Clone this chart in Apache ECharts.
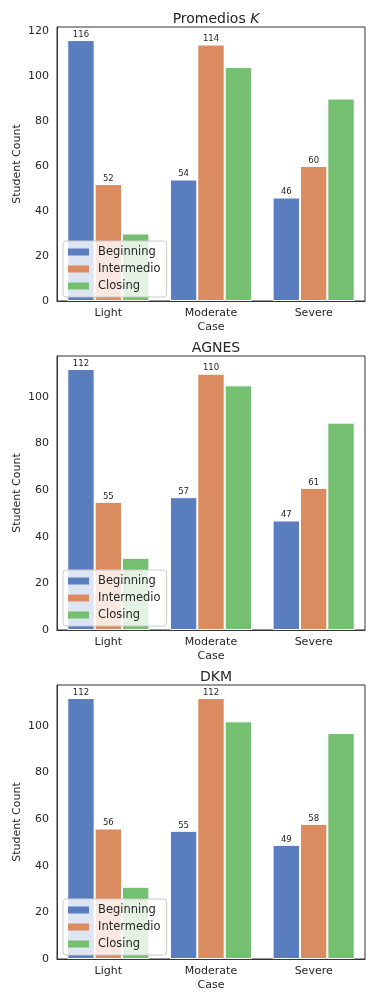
<!DOCTYPE html>
<html><head><meta charset="utf-8">
<script src="https://cdn.jsdelivr.net/npm/echarts@6/dist/echarts.min.js"></script>
<style>html,body{margin:0;padding:0;background:#fff}#c{width:366px;height:992px}</style>
</head><body><div id="c"></div>
<script>
const categories = ['Light', 'Moderate', 'Severe'];
const seriesNames = ['Beginning', 'Intermedio', 'Closing'];
const panelTitles = ['Promedios {i|K}', 'AGNES', 'DKM'];
// panel 1: Promedios K
const kBeginning = [116, 54, 46];
const kIntermedio = [52, 114, 60];
const kClosing = [30, 104, 90];
// panel 2: AGNES
const agnesBeginning = [112, 57, 47];
const agnesIntermedio = [55, 110, 61];
const agnesClosing = [31, 105, 89];
// panel 3: DKM
const dkmBeginning = [112, 55, 49];
const dkmIntermedio = [56, 112, 58];
const dkmClosing = [31, 102, 97];
const yTicks1 = [0, 20, 40, 60, 80, 100, 120];

const panels = [
  [kBeginning, kIntermedio, kClosing],
  [agnesBeginning, agnesIntermedio, agnesClosing],
  [dkmBeginning, dkmIntermedio, dkmClosing]
];
const colors = ['#597dbf', '#da8b5f', '#75bf71'];
const FONT = 'DejaVu Sans';
const TXT = '#262626';
const gridTops = [27, 356, 685];
const H = 274;

const option = {
  animation: false,
  textStyle: {fontFamily: FONT},
  title: [], grid: [], xAxis: [], yAxis: [], series: [], legend: []
};
panels.forEach((p, gi) => {
  const maxV = Math.max(...p.flat()) * 1.05;
  option.title.push({
    text: panelTitles[gi], left: 211, top: gridTops[gi] - 20, textAlign: 'center',
    textStyle: {fontFamily: FONT, fontSize: 14, fontWeight: 'normal', color: TXT,
      rich: {i: {fontFamily: FONT, fontSize: 14, fontStyle: 'italic', color: TXT}}}
  });
  option.grid.push({left: 57, right: 1, top: gridTops[gi], height: H, show: true,
    borderColor: '#333', borderWidth: 1, backgroundColor: 'transparent'});
  option.xAxis.push({
    type: 'category', data: categories, gridIndex: gi,
    name: 'Case', nameLocation: 'middle', nameGap: 21,
    nameTextStyle: {fontFamily: FONT, fontSize: 11, color: TXT},
    axisLine: {show: true, lineStyle: {color: '#333', width: 1}},
    axisTick: {show: false},
    axisLabel: {fontFamily: FONT, fontSize: 11, color: TXT, margin: 7},
    splitLine: {show: false}
  });
  option.yAxis.push({
    type: 'value', gridIndex: gi, min: 0, max: maxV, interval: 20,
    name: 'Student Count', nameLocation: 'middle', nameGap: 34, nameMoveOverlap: false,
    nameTextStyle: {fontFamily: FONT, fontSize: 11, color: TXT},
    axisLine: {show: true, lineStyle: {color: '#333', width: 1}},
    axisTick: {show: false},
    axisLabel: {fontFamily: FONT, fontSize: 11, color: TXT, margin: 8,
      showMaxLabel: gi === 0 ? true : false,
      formatter: v => (gi === 0 && yTicks1.indexOf(v) < 0) ? '' : (Math.abs(v - maxV) < 1e-6 && v % 20 !== 0 ? '' : String(v))},
    splitLine: {show: false}
  });
  p.forEach((vals, si) => {
    option.series.push({
      type: 'bar', name: seriesNames[si], data: vals,
      xAxisIndex: gi, yAxisIndex: gi,
      barGap: '0%', barCategoryGap: '20%',
      itemStyle: {color: colors[si], borderColor: '#fff', borderWidth: 1},
      label: {show: si < 2, position: 'top', distance: 1, fontFamily: FONT, fontSize: 8.5, color: TXT},
      emphasis: {disabled: true}
    });
  });
  option.legend.push({
    data: seriesNames, orient: 'vertical', left: 63, top: gridTops[gi] + 214,
    itemWidth: 21, itemHeight: 7, itemGap: 5,
    padding: [5, 6, 5, 5],
    backgroundColor: 'rgba(255,255,255,0.8)', borderColor: '#ccc', borderWidth: 1, borderRadius: 3,
    icon: 'rect',
    itemStyle: {borderWidth: 0},
    textStyle: {fontFamily: FONT, fontSize: 11.5, color: TXT, lineHeight: 12, padding: [0, 0, 0, 4]}
  });
});
const chart = echarts.init(document.getElementById('c'), null, {renderer: 'canvas'});
chart.setOption(option);
</script></body></html>
